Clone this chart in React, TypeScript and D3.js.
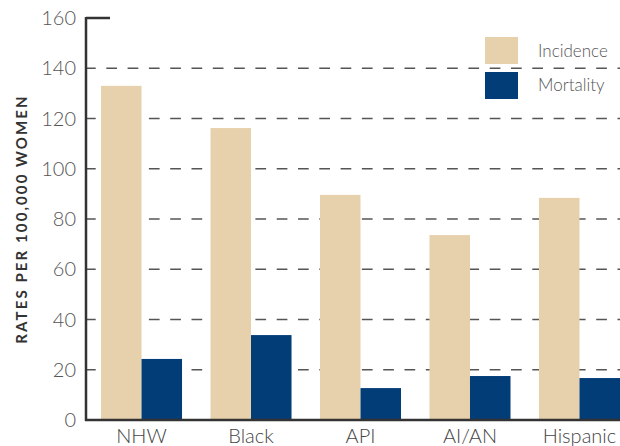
import React from "react";
import * as d3 from "d3";

const categories = ["NHW", "Black", "API", "AI/AN", "Hispanic"];
const seriesNames = ["Incidence", "Mortality"];
const incidence = [133, 116.2, 89.6, 73.6, 88.4];
const mortality = [24.3, 33.8, 12.7, 17.5, 16.7];
const yTicks = [0, 20, 40, 60, 80, 100, 120, 140, 160];
const colors = ["#E7D1AC", "#033D78"];
const yTitle = "RATES PER 100,000 WOMEN";

export default function App() {
  const W = 620, H = 446;
  const x0 = 86;
  const y = d3.scaleLinear().domain([0, 160]).range([420, 18]);
  const x = d3.scaleBand<string>().domain(categories).range([x0, 635]).paddingInner(0.26).paddingOuter(0.137);
  const xi = d3.scaleBand<string>().domain(seriesNames).range([0, x.bandwidth()]);
  const values = [incidence, mortality];
  const font = "Lato, 'Open Sans', sans-serif";
  return (
    <svg width={W} height={H} style={{ position: "absolute", left: 0, top: 0 }} fontFamily={font}>
      <rect width={W} height={H} fill="#fff" />
      {yTicks.filter(t => t > 0 && t < 160).map(t => (
        <line key={t} x1={x0 - 1} x2={W} y1={y(t)} y2={y(t)} stroke="#555" strokeWidth={1.5} strokeDasharray="10.7 10.6" />
      ))}
      {categories.map((c, i) => (
        <g key={c} transform={`translate(${x(c)},0)`}>
          {seriesNames.map((s, j) => (
            <rect key={s} x={xi(s)} width={xi.bandwidth()} y={y(values[j][i])} height={y(0) - y(values[j][i])} fill={colors[j]} />
          ))}
        </g>
      ))}
      <line x1={x0} x2={x0} y1={y(160) - 1} y2={y(0) + 1} stroke="#333" strokeWidth={2.5} />
      <line x1={x0 - 1} x2={W} y1={y(0)} y2={y(0)} stroke="#333" strokeWidth={2.5} />
      <line x1={x0} x2={110} y1={y(160)} y2={y(160)} stroke="#333" strokeWidth={2.5} />
      {yTicks.map(t => (
        <text key={t} x={76} y={y(t)} dy="0.36em" textAnchor="end" fontSize={20} fill="#555" fontWeight={300}>{t}</text>
      ))}
      {categories.map(c => (
        <text key={c} x={(x(c) as number) + x.bandwidth() / 2} y={443} textAnchor="middle" fontSize={20} fill="#444" fontWeight={300}>{c}</text>
      ))}
      <text transform={`translate(27,${(y(0) + y(160)) / 2}) rotate(-90)`} textAnchor="middle" fontSize={15} fontWeight={700} fill="#333" letterSpacing={2.1}>{yTitle}</text>
      {seriesNames.map((s, j) => (
        <g key={s}>
          <rect x={485} y={37 + j * 35} width={33} height={27} fill={colors[j]} />
          <text x={538} y={57 + j * 34} fontSize={17} fill="#555" fontWeight={300}>{s}</text>
        </g>
      ))}
    </svg>
  );
}
